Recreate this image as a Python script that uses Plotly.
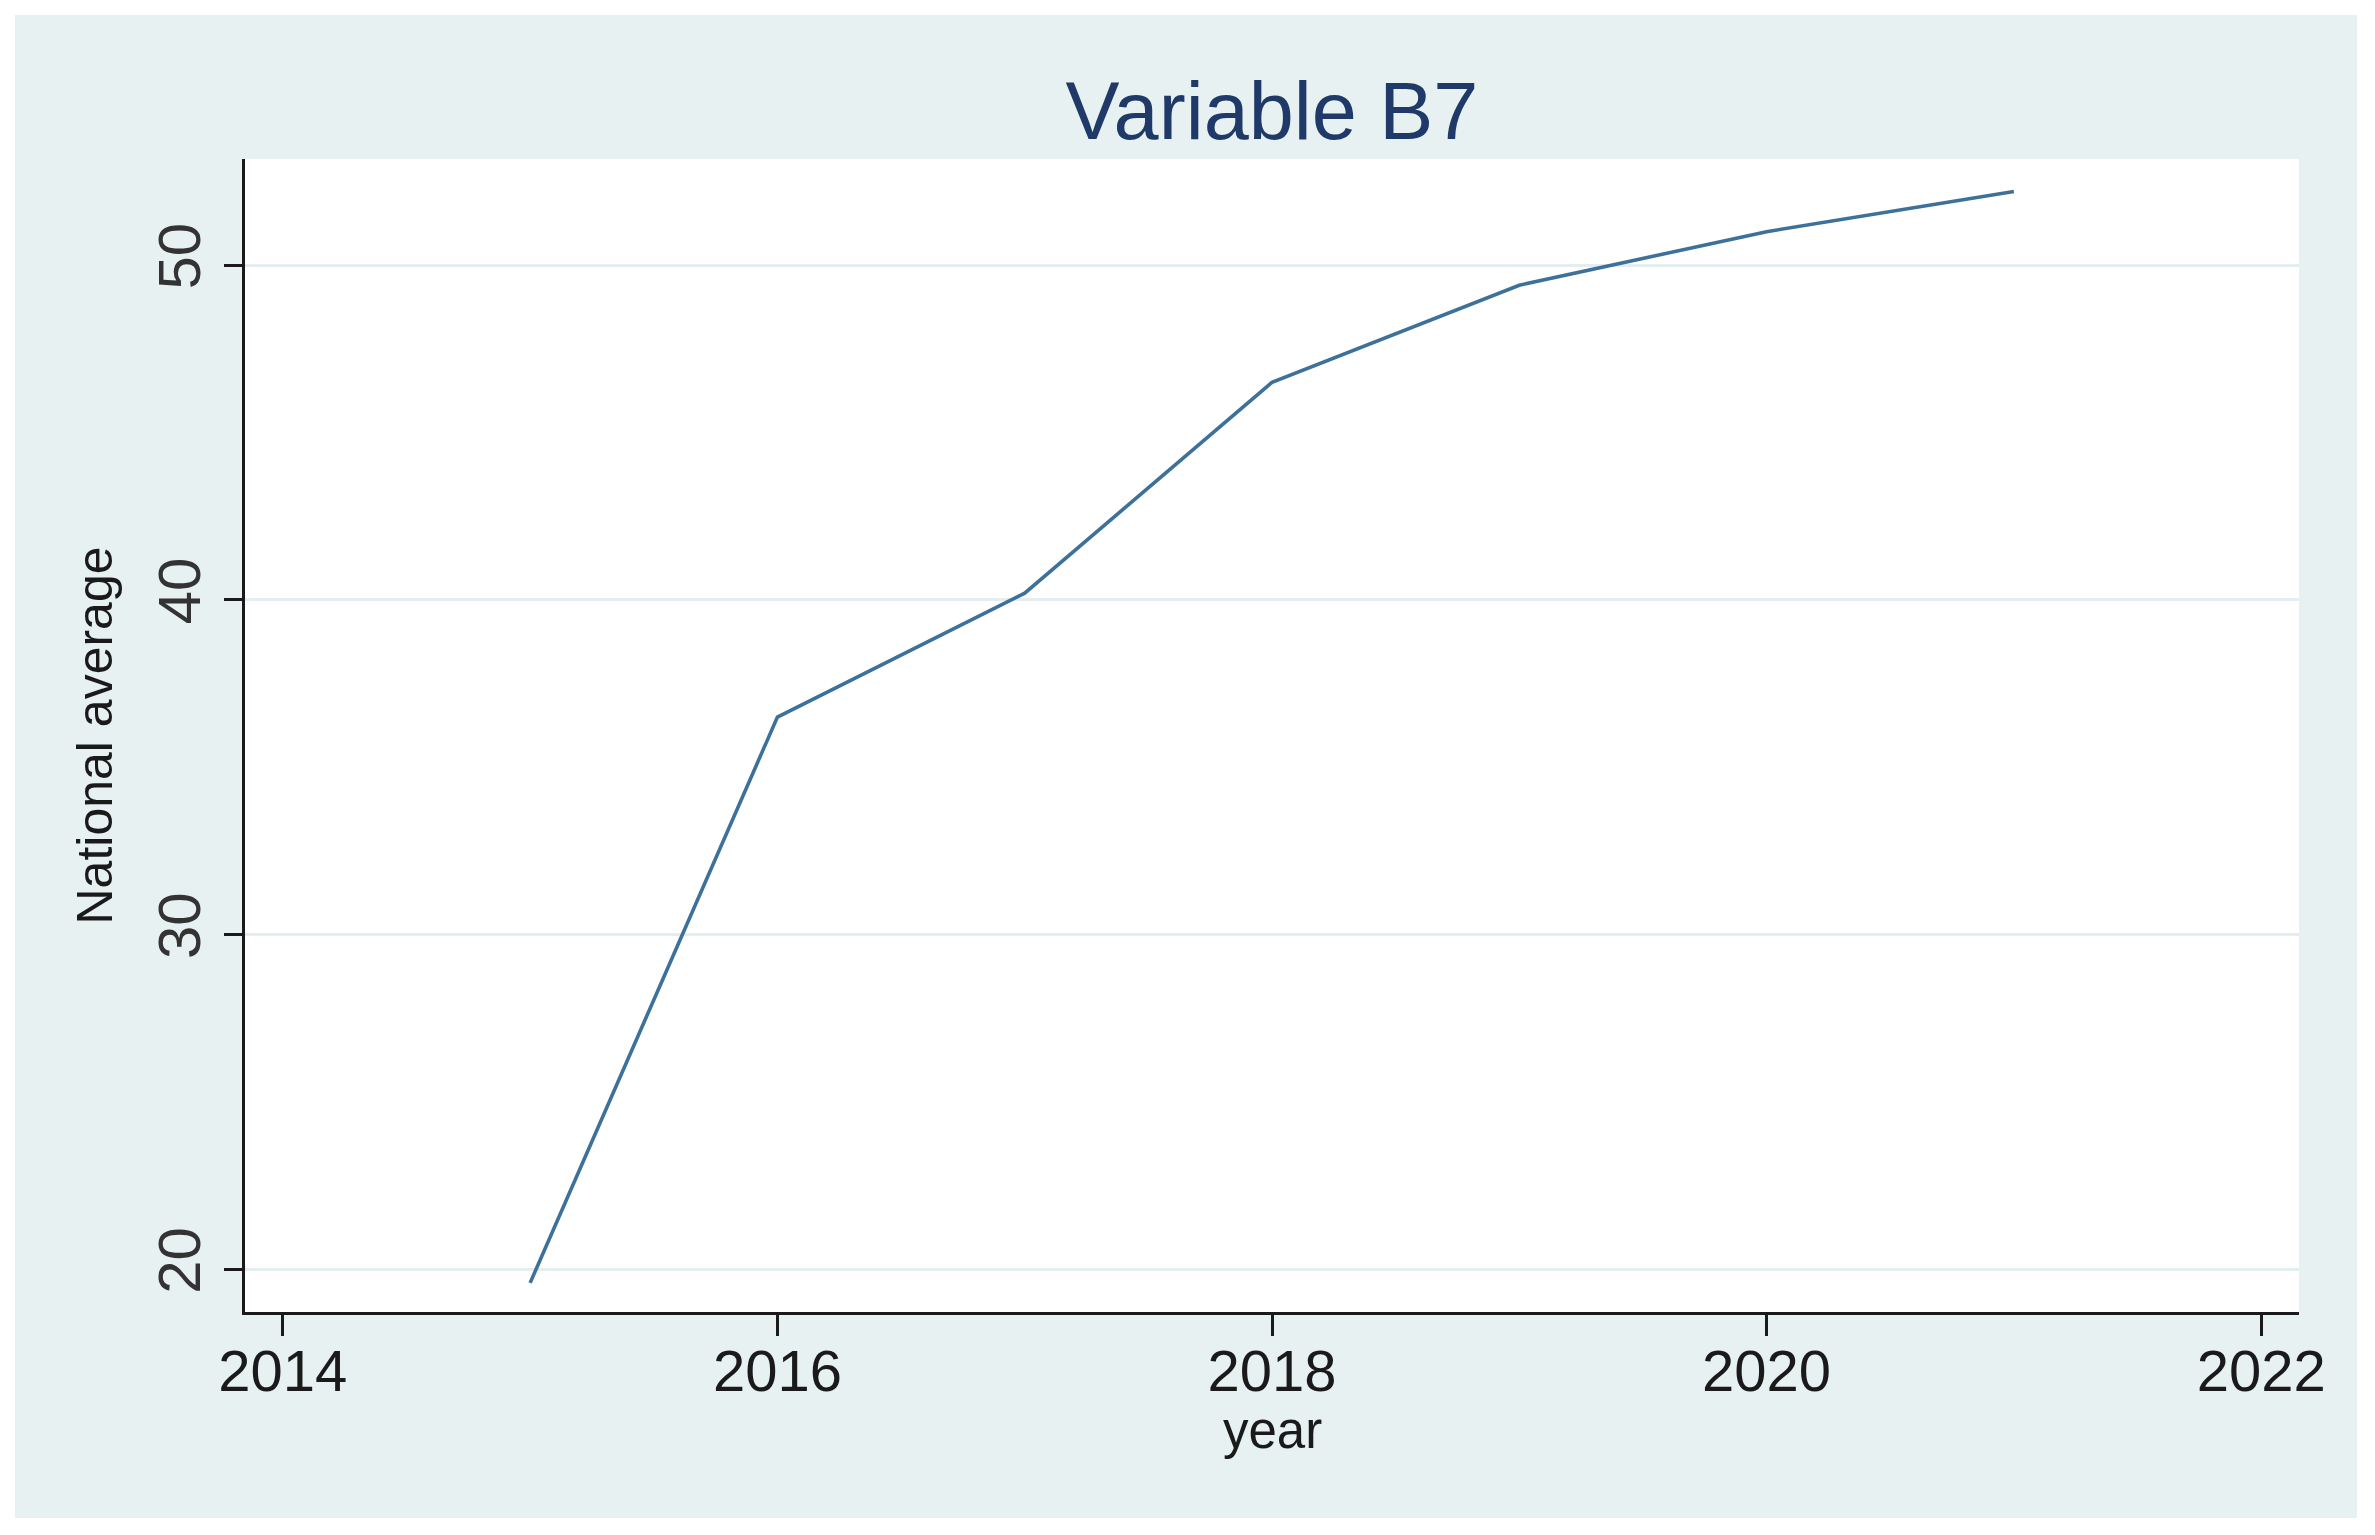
import plotly.graph_objects as go

years = [2015, 2016, 2017, 2018, 2019, 2020, 2021]
national_average = [19.6, 36.5, 40.2, 46.5, 49.4, 51.0, 52.2]
x_ticks = [2014, 2016, 2018, 2020, 2022]
y_ticks = [20, 30, 40, 50]

# page body has an 8px margin, so the figure is a bit smaller than the window
W, H = 2359, 1519
L, R, T, B = 237, 68, 151, 215
pw, ph = W - L - R, H - T - B

FONT = "Liberation Sans, Arial, Helvetica, sans-serif"
BG = "#E7F1F2"

fig = go.Figure()
fig.add_trace(go.Scatter(
    x=years, y=national_average, mode="lines",
    line=dict(color="#3D719A", width=3.6),
    showlegend=False,
))

fig.update_layout(
    width=W, height=H,
    margin=dict(l=L, r=R, t=T, b=B),
    paper_bgcolor="white",
    plot_bgcolor="white",
    font=dict(family=FONT, color="#1a1a1a"),
    title=dict(
        text="Variable B7", x=(L + pw / 2) / W, xanchor="center",
        y=1 - 103 / H, yanchor="middle",
        font=dict(size=81, color="#1F3A68", family=FONT),
    ),
    shapes=[dict(
        type="rect", xref="paper", yref="paper", layer="below",
        x0=(7 - L) / pw, x1=(2349 - L) / pw,
        y0=-(1510 - (T + ph)) / ph, y1=(T + ph - 7) / ph,
        fillcolor=BG, line=dict(width=0),
    ), dict(
        type="rect", xref="paper", yref="paper", layer="below",
        x0=0, x1=1, y0=0, y1=1,
        fillcolor="white", line=dict(width=0),
    )],
    annotations=[dict(
        text="year", xref="paper", yref="paper",
        x=0.5, y=-(1422 - (T + ph)) / ph, xanchor="center", yanchor="middle",
        showarrow=False, font=dict(size=51, color="#1a1a1a", family=FONT),
    )],
)

fig.update_xaxes(
    range=[2013.847, 2022.153],
    tickvals=x_ticks, ticktext=[str(v) for v in x_ticks],
    tickfont=dict(size=58, color="#1a1a1a"),
    ticks="outside", ticklen=21, tickwidth=2.5, tickcolor="#1a1a1a",
    ticklabelstandoff=-15,
    showline=True, linecolor="#1a1a1a", linewidth=3,
    showgrid=False, zeroline=False,
)
fig.update_yaxes(
    range=[18.73, 53.17],
    tickvals=y_ticks, ticktext=[str(v) for v in y_ticks],
    tickangle=-90,
    tickfont=dict(size=60, color="#333333"),
    ticks="outside", ticklen=18, tickwidth=2.5, tickcolor="#1a1a1a",
    showline=True, linecolor="#1a1a1a", linewidth=3,
    showgrid=True, gridcolor="#E4EEF0", gridwidth=3,
    zeroline=False,
    title=dict(text="National average", font=dict(size=50, color="#1a1a1a"), standoff=18),
)

fig.write_html("out.html")
